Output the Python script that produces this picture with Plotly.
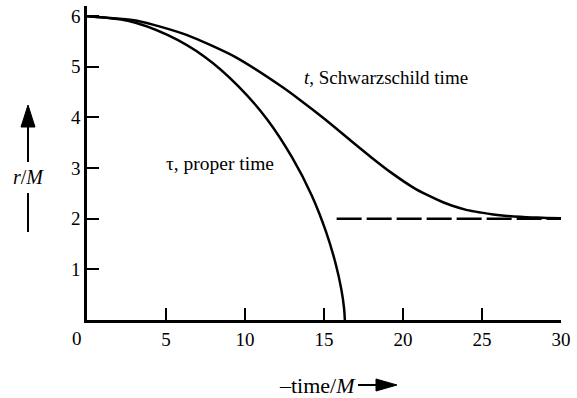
import plotly.graph_objects as go

# Radial infall from rest at r = 6M: radius against proper time and Schwarzschild time
tau_values = [0.0, 2.59, 5.09, 7.44, 9.57, 11.43, 12.98, 14.21, 15.12, 15.73, 16.10, 16.27, 16.32]
tau_radius = [6.00, 5.91, 5.63, 5.20, 4.62, 3.95, 3.21, 2.47, 1.75, 1.12, 0.60, 0.23, 0.00]

t_values = [0.0, 3.17, 6.30, 9.34, 12.27, 13.42, 15.12, 16.82, 18.00, 19.25, 20.68,
            21.53, 22.57, 23.08, 24.06, 24.97, 25.59, 26.43, 27.01, 27.81, 28.49,
            29.11, 30.00]
t_radius = [6.00, 5.91, 5.63, 5.20, 4.62, 4.36, 3.95, 3.51, 3.21, 2.91, 2.61,
            2.47, 2.32, 2.26, 2.17, 2.12, 2.09, 2.06, 2.044, 2.03, 2.022,
            2.016, 2.011]

# Horizon r = 2M, drawn dashed
horizon_t = [15.8, 30.0]
horizon_r = [2.0, 2.0]

x_ticks = [5, 10, 15, 20, 25, 30]
y_ticks = [1, 2, 3, 4, 5, 6]

SERIF = "Liberation Serif"
INK = "black"

fig = go.Figure()
fig.add_trace(go.Scatter(x=tau_values, y=tau_radius, mode="lines",
                         line=dict(color=INK, width=2.5, shape="spline", smoothing=0.8),
                         hoverinfo="skip"))
fig.add_trace(go.Scatter(x=t_values, y=t_radius, mode="lines",
                         line=dict(color=INK, width=2.5, shape="spline", smoothing=0.6),
                         hoverinfo="skip"))
fig.add_trace(go.Scatter(x=horizon_t, y=horizon_r, mode="lines",
                         line=dict(color=INK, width=2.5, dash="25px,5px"),
                         hoverinfo="skip"))

axis_common = dict(showline=True, linecolor=INK, linewidth=2.5, ticks="inside",
                   ticklen=12, tickwidth=2, tickcolor=INK, showgrid=False,
                   zeroline=False, tickfont=dict(family=SERIF, size=19, color=INK))

fig.update_xaxes(range=[0, 30], tickvals=x_ticks, **axis_common)
fig.update_yaxes(range=[0, 6.2], tickvals=y_ticks, **axis_common)

pix = dict(xref="paper", yref="paper", xsizemode="pixel", ysizemode="pixel",
           xanchor=0, yanchor=0)

shapes = [
    # vertical axis-title arrow
    dict(type="line", x0=-59, x1=-59, y0=158, y1=195, line=dict(color=INK, width=2), **pix),
    dict(type="path", path="M -66,193 L -52,193 L -59,215 Z", fillcolor=INK,
         line=dict(color=INK, width=1), **pix),
    dict(type="line", x0=-59, x1=-59, y0=88, y1=127, line=dict(color=INK, width=2), **pix),
    # horizontal axis-title arrow
    dict(type="line", x0=271, x1=291, y0=-65, y1=-65, line=dict(color=INK, width=2), **pix),
    dict(type="path", path="M 289,-59 L 289,-71 L 310,-65 Z", fillcolor=INK,
         line=dict(color=INK, width=1), **pix),
]

annotations = [
    dict(x=0, y=0, xref="paper", yref="paper", text="0", showarrow=False,
         xshift=-10, yshift=-18, xanchor="center", yanchor="middle",
         font=dict(family=SERIF, size=19, color=INK)),
    dict(x=0, y=0, xref="paper", yref="paper", text="<i>r</i>/<i>M</i>", showarrow=False,
         xshift=-59, yshift=143, xanchor="center", yanchor="middle",
         font=dict(family=SERIF, size=20, color=INK)),
    dict(x=0, y=0, xref="paper", yref="paper", text="\u2013time/<i>M</i>", showarrow=False,
         xshift=271, yshift=-65, xanchor="right", yanchor="middle",
         font=dict(family=SERIF, size=22, color=INK)),
    dict(x=4.875, y=3.10, xref="x", yref="y", text="\u03c4, proper time", showarrow=False,
         xanchor="left", yanchor="middle", font=dict(family=SERIF, size=19.5, color=INK)),
    dict(x=13.6, y=4.78, xref="x", yref="y", text="<i>t</i>, Schwarzschild time",
         showarrow=False, xanchor="left", yanchor="middle",
         font=dict(family=SERIF, size=19, color=INK)),
]

fig.update_layout(width=577, height=398, margin=dict(l=87, r=10, t=6, b=78),
                  paper_bgcolor="white", plot_bgcolor="white", showlegend=False,
                  shapes=shapes, annotations=annotations)

fig.write_html("out.html")
